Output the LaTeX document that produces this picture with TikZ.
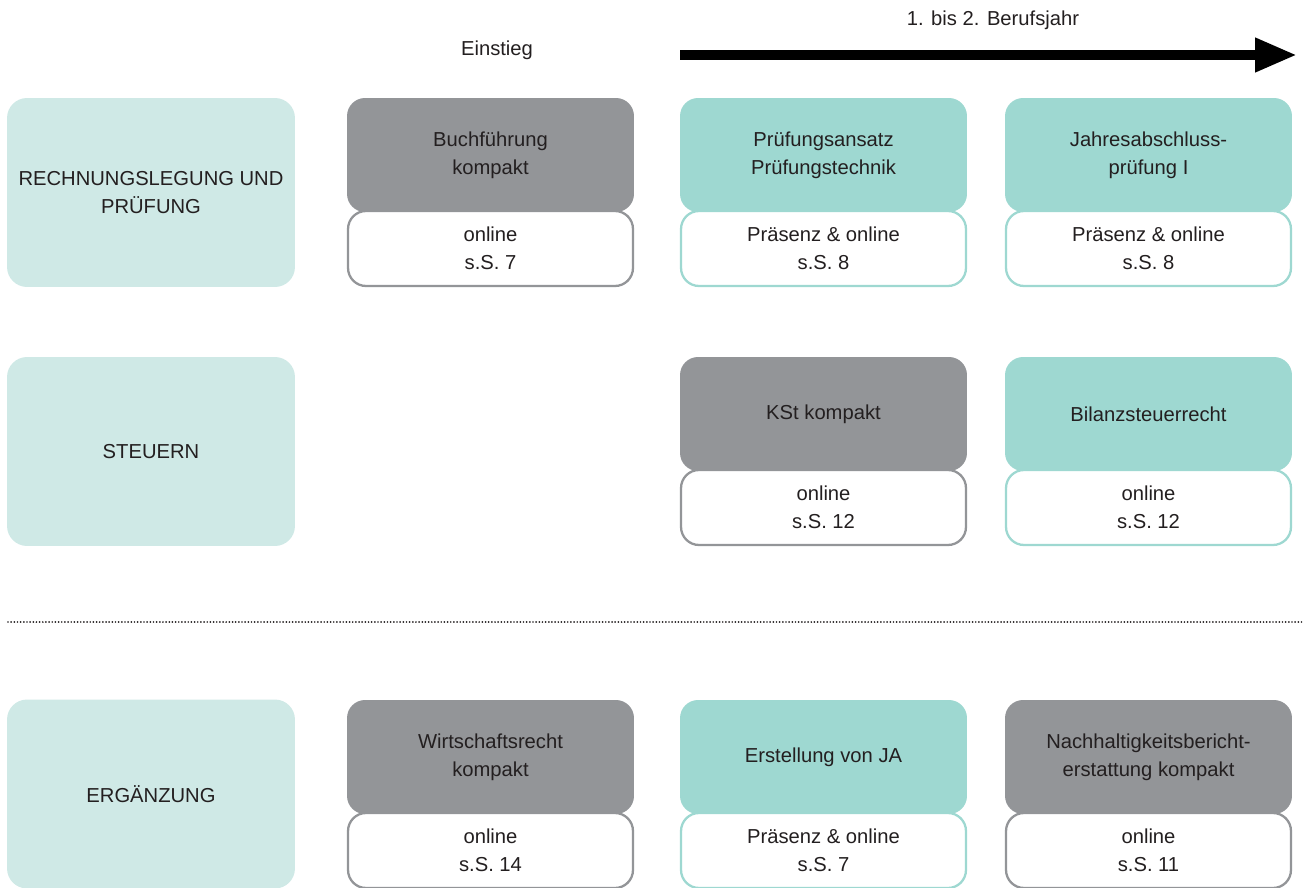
\documentclass[tikz,border=0pt]{standalone}
\usepackage{fontspec}
\setmainfont{Liberation Sans}
\usetikzlibrary{arrows.meta}
\definecolor{catfill}{HTML}{CFE9E6}
\definecolor{kgray}{HTML}{939598}
\definecolor{kteal}{HTML}{9ED8D1}
\definecolor{txt}{HTML}{231F20}
\begin{document}
\begin{tikzpicture}[x=0.02cm,y=-0.02cm,
  every node/.style={text=txt,font=\fontsize{11.5}{16}\selectfont,align=center,inner sep=0pt},
  cat/.style={fill=catfill,rounded corners=0.4cm,minimum width=5.76cm,minimum height=3.78cm},
  head/.style={fill=#1,rounded corners=0.36cm,minimum width=5.74cm,minimum height=2.28cm},
  foot/.style={draw=#1,line width=1.3pt,fill=white,rounded corners=0.36cm,minimum width=5.70cm,minimum height=1.50cm}]
\useasboundingbox(0,0)rectangle(1304,888);
% Zeitachse
\node(einstieg)at(497,50){Einstieg};
\node(jahr)at(993,20){1. bis 2. Berufsjahr};
\coordinate(arrS)at(680,55);
\coordinate(arrE)at(1297,55);
\draw[line width=0.2cm,-{Triangle[length=0.84cm,width=0.64cm]}](arrS)--(arrE);
% Bereiche
\node[cat](rl)at(151,192.5){RECHNUNGSLEGUNG UND\\PRÜFUNG};
\node[cat](st)at(151,451.5){STEUERN};
\node[cat](erg)at(151,794){ERGÄNZUNG};
% Trennlinie
\coordinate(dotS)at(8,622);
\coordinate(dotE)at(1304,622);
\draw[line width=1.1pt,line cap=round,dash pattern=on 0pt off 1.8pt,txt](dotS)--(dotE);
% Zeile 1
\node[foot=kgray](bfF)at(490.5,248.5){online\\s.S. 7};
\node[head=kgray](bf)at(490.5,155){Buchführung\\kompakt};
\node[foot=kteal](ppF)at(823.5,248.5){Präsenz \& online\\s.S. 8};
\node[head=kteal](pp)at(823.5,155){Prüfungsansatz\\Prüfungstechnik};
\node[foot=kteal](jaF)at(1148.5,248.5){Präsenz \& online\\s.S. 8};
\node[head=kteal](ja)at(1148.5,155){Jahresabschluss-\\prüfung I};
% Zeile 2
\node[foot=kgray](kstF)at(823.5,507.5){online\\s.S. 12};
\node[head=kgray](kst)at(823.5,414){KSt kompakt};
\node[foot=kteal](bsF)at(1148.5,507.5){online\\s.S. 12};
\node[head=kteal](bs)at(1148.5,414){Bilanzsteuerrecht};
% Zeile 3
\node[foot=kgray](wrF)at(490.5,850.5){online\\s.S. 14};
\node[head=kgray](wr)at(490.5,757){Wirtschaftsrecht\\kompakt};
\node[foot=kteal](ejF)at(823.5,850.5){Präsenz \& online\\s.S. 7};
\node[head=kteal](ej)at(823.5,757){Erstellung von JA};
\node[foot=kgray](nhF)at(1148.5,850.5){online\\s.S. 11};
\node[head=kgray](nh)at(1148.5,757){Nachhaltigkeitsbericht-\\erstattung kompakt};
\end{tikzpicture}
\end{document}
